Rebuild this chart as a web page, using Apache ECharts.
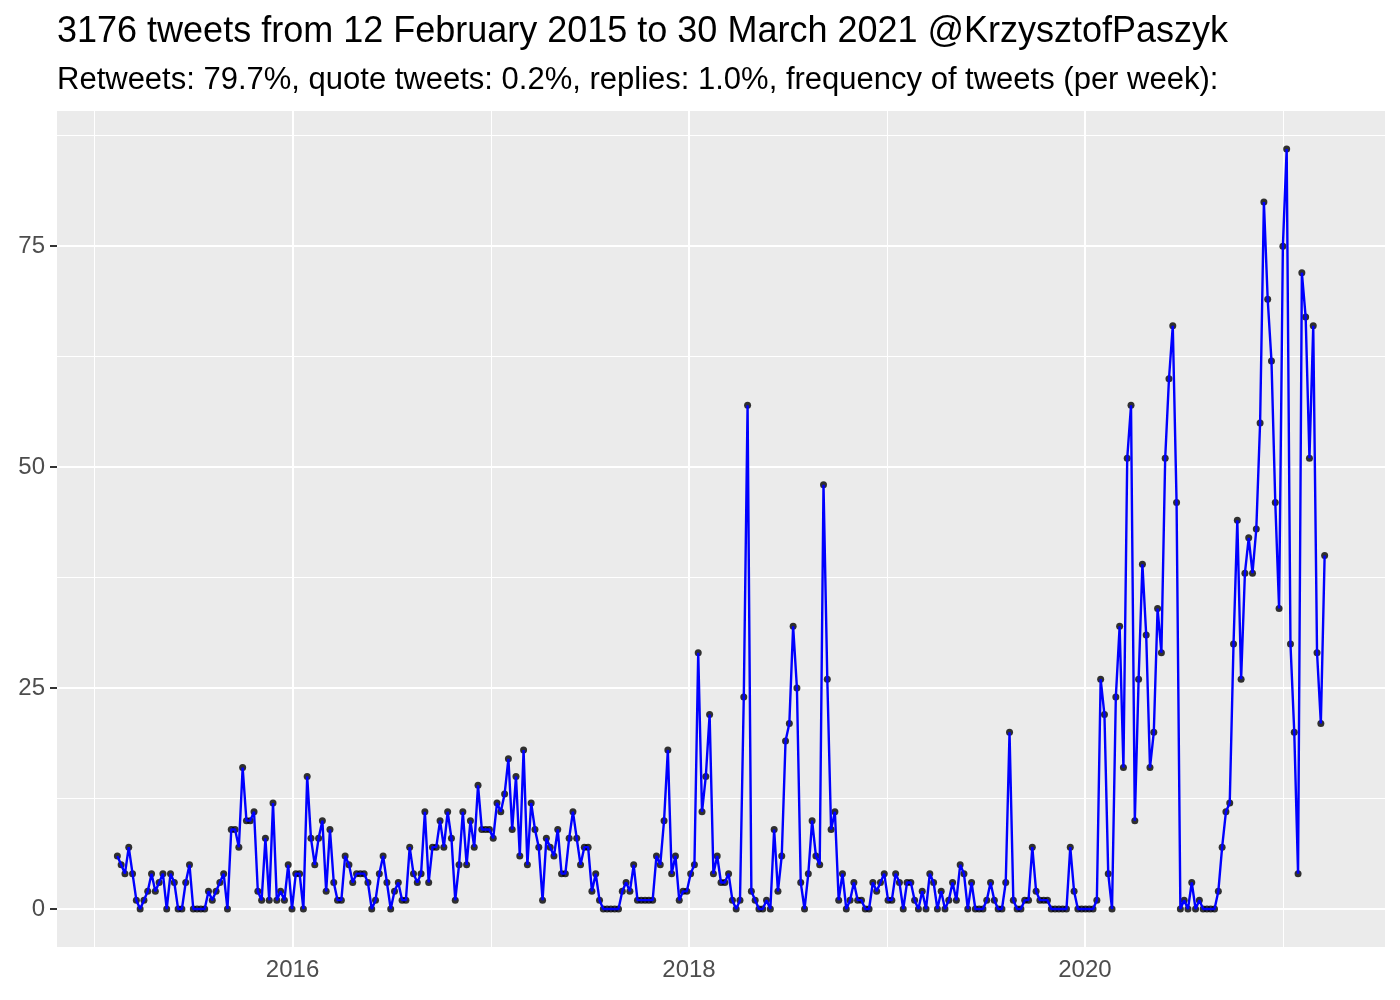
<!DOCTYPE html>
<html>
<head>
<meta charset="utf-8">
<script src="https://cdn.jsdelivr.net/npm/echarts@6/dist/echarts.min.js"></script>
<style>
  html, body { margin: 0; padding: 0; background: #fff; }
  #chart { width: 1400px; height: 1000px; }
</style>
</head>
<body>
<div id="chart"></div>
<script>
// tweets per week, first week starting 12 Feb 2015
const firstWeek = '2015-02-12';
const tweetsPerWeek = [
  6, 5, 4, 7, 4, 1, 0, 1, 2, 4, 2, 3, 4, 0, 4, 3, 0, 0, 3, 5, 0, 0, 0, 0, 2, 1, 2, 3, 4, 0,
  9, 9, 7, 16, 10, 10, 11, 2, 1, 8, 1, 12, 1, 2, 1, 5, 0,
  4, 4, 0, 15, 8, 5, 8, 10, 2, 9, 3, 1, 1, 6, 5, 3, 4, 4, 4, 3, 0,
  1, 4, 6, 3, 0, 2, 3, 1, 1, 7, 4, 3, 4, 11, 3, 7, 7, 10, 7, 11, 8, 1, 5, 11, 5, 10, 7, 14, 9, 9, 9, 8, 12, 11, 13, 17, 9,
  15, 6, 18, 5, 12, 9, 7, 1, 8, 7, 6, 9, 4, 4, 8, 11, 8, 5, 7, 7, 2, 4, 1, 0, 0, 0, 0, 0, 2, 3, 2, 5, 1, 1, 1,
  1, 1, 6, 5, 10, 18, 4, 6, 1, 2, 2, 4, 5, 29, 11, 15, 22, 4, 6, 3, 3, 4, 1, 0, 1, 24, 57, 2, 1, 0, 0, 1, 0, 9, 2, 6,
  19, 21, 32, 25, 3, 0, 4, 10, 6, 5, 48, 26, 9, 11, 1, 4, 0, 1, 3, 1, 1, 0, 0, 3, 2, 3, 4, 1, 1, 4, 3, 0, 3, 3, 1, 0,
  2, 0, 4, 3, 0, 2, 0, 1, 3, 1, 5, 4, 0, 3, 0, 0, 0, 1, 3, 1, 0, 0, 3, 20, 1, 0, 0, 1, 1, 7, 2, 1, 1, 1, 0,
  0, 0, 0, 0, 7, 2, 0, 0, 0, 0, 0, 1, 26, 22, 4, 0, 24, 32, 16, 51, 57, 10, 26, 39, 31, 16, 20, 34, 29, 51, 60, 66, 46, 0, 1,
  0, 3, 0, 1, 0, 0, 0, 0, 2, 7, 11, 12, 30, 44, 26, 38, 42, 38, 43, 55, 80, 69, 62, 46, 34, 75, 86, 30, 20, 4, 72, 67, 51, 66, 29, 21, 40
];

const yBreaks = [0, 25, 50, 75];
const yMinorBreaks = [12.5, 37.5, 62.5, 87.5];
const xBreaks = ['2016-01-01', '2018-01-01', '2020-01-01'];
const xMinorBreaks = ['2015-01-01', '2017-01-01', '2019-01-01', '2021-01-01'];

const titleText = '3176 tweets from 12 February 2015 to 30 March 2021 @KrzysztofPaszyk';
const subtitleText = 'Retweets: 79.7%, quote tweets: 0.2%, replies: 1.0%, frequency of tweets (per week):';

const DAY = 24 * 3600 * 1000;
function toTime(s) {
  const p = s.split('-');
  return Date.UTC(+p[0], +p[1] - 1, +p[2]);
}
const t0 = toTime(firstWeek);
const seriesData = tweetsPerWeek.map((v, i) => [t0 + i * 7 * DAY, v]);

// ggplot-like 5% expansion of the scales
const tFirst = seriesData[0][0];
const tLast = seriesData[seriesData.length - 1][0];
const tPad = (tLast - tFirst) * 0.05;
const yMax = Math.max(...tweetsPerWeek);
const yPad = yMax * 0.05;

const font = 'Liberation Sans';

function gridLine(val, axis, width) {
  const d = {};
  d[axis] = val;
  d.lineStyle = { color: '#ffffff', width: width, type: 'solid' };
  return d;
}

const chart = echarts.init(document.getElementById('chart'), null, { renderer: 'canvas' });
chart.setOption({
  animation: false,
  backgroundColor: '#ffffff',
  title: [
    {
      text: titleText,
      left: 57,
      top: 14,
      padding: 0,
      textStyle: { fontFamily: font, fontSize: 36, fontWeight: 'normal', color: '#000000' }
    },
    {
      text: subtitleText,
      left: 57,
      top: 65,
      padding: 0,
      textStyle: { fontFamily: font, fontSize: 31, fontWeight: 'normal', color: '#000000' }
    }
  ],
  grid: {
    left: 57,
    right: 15,
    top: 111,
    bottom: 53,
    show: true,
    backgroundColor: '#EBEBEB',
    borderWidth: 0,
    containLabel: false
  },
  xAxis: {
    type: 'value',
    min: tFirst - tPad,
    max: tLast + tPad,
    axisLine: { show: false },
    axisTick: {
      show: true,
      customValues: xBreaks.map(toTime),
      length: 7,
      lineStyle: { color: '#333333', width: 2 }
    },
    axisLabel: {
      customValues: xBreaks.map(toTime),
      formatter: function (v) { return String(new Date(v).getUTCFullYear()); },
      color: '#4D4D4D',
      fontFamily: font,
      fontSize: 24,
      margin: 11
    },
    splitLine: { show: false }
  },
  yAxis: {
    type: 'value',
    min: -yPad,
    max: yMax + yPad,
    axisLine: { show: false },
    axisTick: {
      show: true,
      customValues: yBreaks,
      length: 7,
      lineStyle: { color: '#333333', width: 2 }
    },
    axisLabel: {
      customValues: yBreaks,
      color: '#4D4D4D',
      fontFamily: font,
      fontSize: 24,
      margin: 12
    },
    splitLine: { show: false }
  },
  series: [
    {
      name: 'grid',
      type: 'line',
      z: 1,
      silent: true,
      data: [],
      markLine: {
        silent: true,
        z: 1,
        symbol: ['none', 'none'],
        label: { show: false },
        emphasis: { disabled: true },
        data: []
          .concat(yMinorBreaks.map(v => gridLine(v, 'yAxis', 1)))
          .concat(xMinorBreaks.map(v => gridLine(toTime(v), 'xAxis', 1)))
          .concat(yBreaks.map(v => gridLine(v, 'yAxis', 2)))
          .concat(xBreaks.map(v => gridLine(toTime(v), 'xAxis', 2)))
      }
    },
    {
      name: 'points',
      type: 'scatter',
      z: 10,
      data: seriesData,
      symbol: 'circle',
      symbolSize: 7,
      itemStyle: { color: '#000000' },
      silent: true
    },
    {
      name: 'tweets',
      type: 'line',
      z: 11,
      data: seriesData,
      showSymbol: false,
      lineStyle: { color: '#0000FF', width: 2.4 },
      silent: true
    }
  ]
});
</script>
</body>
</html>
